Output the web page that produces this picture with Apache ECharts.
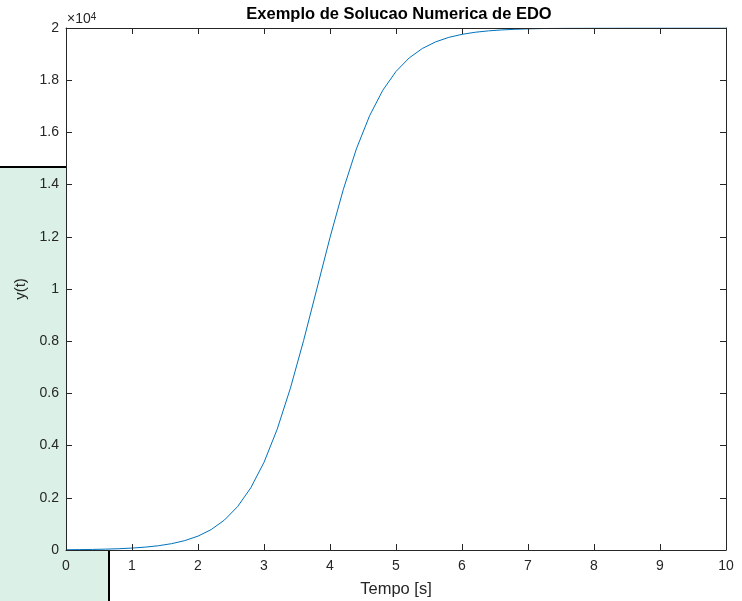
<!DOCTYPE html>
<html>
<head>
<meta charset="utf-8">
<script src="https://cdn.jsdelivr.net/npm/echarts@6/dist/echarts.min.js"></script>
<style>
	html, body { margin: 0; padding: 0; background: #fff; }
	#chart { width: 742px; height: 601px; }
</style>
</head>
<body>
<div id="chart"></div>
<script>
// tempo (s)
const tempo = [
	0, 0.2, 0.4, 0.6, 0.8, 1, 1.2, 1.4, 1.6, 1.8,
	2, 2.2, 2.4, 2.6, 2.8, 3, 3.2, 3.4, 3.6, 3.8,
	4, 4.2, 4.4, 4.6, 4.8, 5, 5.2, 5.4, 5.6, 5.8,
	6, 6.2, 6.4, 6.6, 6.8, 7, 7.2, 7.4, 7.6, 7.8,
	8, 8.2, 8.4, 8.6, 8.8, 9, 9.2, 9.4, 9.6, 9.8, 10
];
// y(t)
const yt = [
	10, 15, 22, 33, 49, 74, 110, 163, 243, 360,
	532, 783, 1146, 1663, 2383, 3358, 4628, 6199, 8024, 9998,
	11972, 13798, 15369, 16639, 17615, 18336, 18853, 19216, 19468, 19641,
	19757, 19837, 19890, 19926, 19950, 19967, 19978, 19985, 19990, 19993,
	19995, 19997, 19998, 19999, 19999, 19999, 20000, 20000, 20000, 20000, 20000
];
const xTicks = ['0', '1', '2', '3', '4', '5', '6', '7', '8', '9', '10'];
const yTicks = ['0', '0.2', '0.4', '0.6', '0.8', '1', '1.2', '1.4', '1.6', '1.8', '2'];

const axisColor = '#262626';
const font = 'Liberation Sans, Arial, sans-serif';

let chart = echarts.init(document.getElementById('chart'));
let boxAxis = {
	z: 5,
	axisLine: { show: true, onZero: false, lineStyle: { color: axisColor, width: 1 } },
	axisTick: { show: true, inside: true, length: 6, lineStyle: { color: axisColor } },
	splitLine: { show: false },
};
chart.setOption({
	animation: false,
	backgroundColor: '#fff',
	title: {
		text: 'Exemplo de Solucao Numerica de EDO',
		left: 394,
		textAlign: 'center',
		top: 1,
		textStyle: { fontFamily: font, fontSize: 16.5, fontWeight: 'bold', color: '#000' },
	},
	grid: {
		left: 66, right: 16, top: 28, bottom: 51,
		outerBoundsMode: 'none',
		containLabel: false,
		show: true, backgroundColor: '#fff', borderWidth: 0, z: 1,
	},
	graphic: [
		{
			// retangulo verde no canto
			type: 'rect',
			z: -5,
			shape: { x: -2, y: 167, width: 111, height: 440 },
			style: { fill: '#dbf0e6', stroke: '#000', lineWidth: 2 },
		},
		{
			type: 'text',
			left: 67, top: 12,
			z: 10,
			style: {
				text: '{a|\u00d710}{b|4}',
				rich: {
					a: { fontFamily: font, fontSize: 14, fill: axisColor, padding: [5, 0, 0, 0] },
					b: { fontFamily: font, fontSize: 10, fill: axisColor },
				},
			},
		},
	],
	xAxis: [
		Object.assign({}, boxAxis, {
			type: 'value', min: 0, max: 10, interval: 1, position: 'bottom',
			name: 'Tempo [s]', nameLocation: 'middle', nameGap: 31,
			nameTextStyle: { fontFamily: font, fontSize: 16.5, color: axisColor },
			axisLabel: {
				color: axisColor, fontFamily: font, fontSize: 14, margin: 9,
				formatter: (v) => xTicks[Math.round(v)],
			},
		}),
		Object.assign({}, boxAxis, {
			type: 'value', min: 0, max: 10, interval: 1, position: 'top',
			axisLabel: { show: false },
		}),
	],
	yAxis: [
		Object.assign({}, boxAxis, {
			type: 'value', min: 0, max: 20000, interval: 2000, position: 'left',
			name: 'y(t)', nameLocation: 'middle', nameGap: 31, nameRotate: 90,
			nameTextStyle: { fontFamily: font, fontSize: 15, color: axisColor },
			axisLabel: {
				color: axisColor, fontFamily: font, fontSize: 14, margin: 7,
				formatter: (v) => yTicks[Math.round(v / 2000)],
			},
		}),
		Object.assign({}, boxAxis, {
			type: 'value', min: 0, max: 20000, interval: 2000, position: 'right',
			axisLabel: { show: false },
		}),
	],
	series: [
		{
			type: 'line',
			data: tempo.map((t, i) => [t, yt[i]]),
			showSymbol: false,
			smooth: false,
			lineStyle: { color: '#0072bd', width: 1 },
			z: 3,
		},
	],
});
</script>
</body>
</html>
